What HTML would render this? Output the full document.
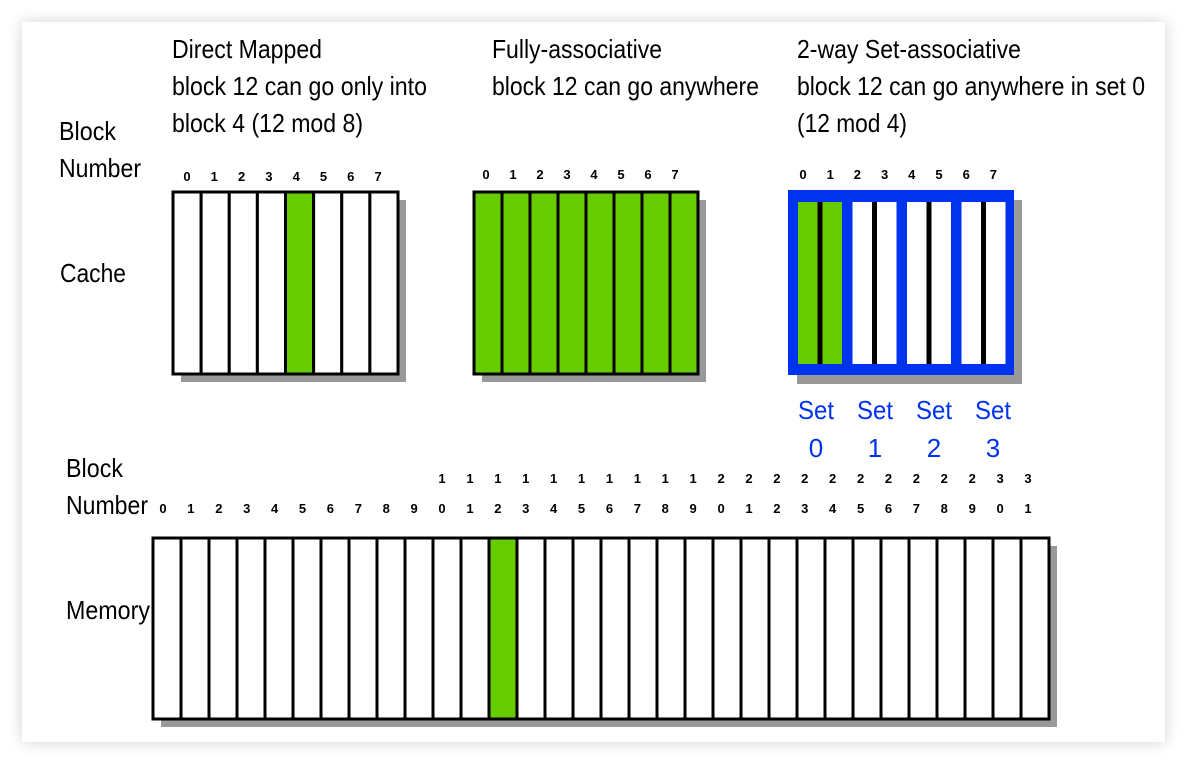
<!DOCTYPE html>
<html><head><meta charset="utf-8"><style>
html,body{margin:0;padding:0;background:#fff;width:1187px;height:765px;overflow:hidden}
#panel{position:absolute;left:22px;top:22px;width:1143px;height:720px;background:#fff;box-shadow:0 0 14px rgba(0,0,0,0.18)}
svg{position:absolute;left:0;top:0}
text{font-family:"Liberation Sans",sans-serif}
.t{font-size:26px;fill:#000}
.n{font-size:13px;font-weight:bold;fill:#000}
.b{font-size:26px;fill:#0033ee}
</style></head><body>
<div id="panel"></div>
<svg id="s" width="1187" height="765">
<g>
<text class="t" x="172" y="58" textLength="150" lengthAdjust="spacingAndGlyphs">Direct Mapped</text>
<text class="t" x="172" y="95" textLength="255" lengthAdjust="spacingAndGlyphs">block 12 can go only into</text>
<text class="t" x="172" y="132" textLength="191" lengthAdjust="spacingAndGlyphs">block 4 (12 mod 8)</text>
<text class="t" x="492" y="58" textLength="170" lengthAdjust="spacingAndGlyphs">Fully-associative</text>
<text class="t" x="492" y="95" textLength="267" lengthAdjust="spacingAndGlyphs">block 12 can go anywhere</text>
<text class="t" x="797" y="58" textLength="224" lengthAdjust="spacingAndGlyphs">2-way Set-associative</text>
<text class="t" x="797" y="95" textLength="348" lengthAdjust="spacingAndGlyphs">block 12 can go anywhere in set 0</text>
<text class="t" x="797" y="132" textLength="110" lengthAdjust="spacingAndGlyphs">(12 mod 4)</text>
<text class="t" x="59" y="140" textLength="57" lengthAdjust="spacingAndGlyphs">Block</text>
<text class="t" x="59" y="177" textLength="82" lengthAdjust="spacingAndGlyphs">Number</text>
<text class="t" x="60" y="282" textLength="66" lengthAdjust="spacingAndGlyphs">Cache</text>
<text class="t" x="66" y="477" textLength="57" lengthAdjust="spacingAndGlyphs">Block</text>
<text class="t" x="66" y="514" textLength="82" lengthAdjust="spacingAndGlyphs">Number</text>
<text class="t" x="66" y="619" textLength="84" lengthAdjust="spacingAndGlyphs">Memory</text>
</g>
<g id="g"></g>
</svg>
<script>
const cacheBlocks=[0,1,2,3,4,5,6,7];
const directHighlight=[4];
const fullHighlight=[0,1,2,3,4,5,6,7];
const setHighlight=[0];
const setLabels=["0","1","2","3"];
const memoryBlocks=Array.from({length:32},(_,i)=>i);
const memoryHighlight=[12];
const NS="http://www.w3.org/2000/svg";
const g=document.getElementById('g');
function el(tag,a,txt){const e=document.createElementNS(NS,tag);for(const k in a)e.setAttribute(k,a[k]);if(txt!==undefined)e.textContent=txt;g.appendChild(e);return e;}
const GREEN="#66cc00";
function blockRow(x0,x1,y0,y1,n,hl,name){
  const sh=el('rect',{x:x0+8,y:y0+8,width:x1-x0,height:y1-y0,fill:"#999"});
  
  
  const w=(x1-x0)/n;
  for(let i=0;i<n;i++){
    const r=el('rect',{x:x0+i*w,y:y0,width:w,height:y1-y0,fill:hl.includes(i)?GREEN:"#fff",stroke:"#000","stroke-width":3});
    
    
  }
}
blockRow(173,398,192,374,cacheBlocks.length,directHighlight,'direct-cache');
cacheBlocks.forEach((b,i)=>{const t=el('text',{class:'n',x:187+i*27.3,y:181,'text-anchor':'middle'},b);
});
blockRow(474,698,192,374,cacheBlocks.length,fullHighlight,'full-cache');
cacheBlocks.forEach((b,i)=>{const t=el('text',{class:'n',x:486+i*27,y:179,'text-anchor':'middle'},b);
});
{
 const sh=el('rect',{x:797,y:200,width:225,height:184,fill:"#999"});
 
 const o=el('rect',{x:788,y:190,width:226,height:185,fill:"#0033ee"});
 
 setLabels.forEach((s,i)=>{
   const sx=798+i*54.5, w=44;
   const fill=setHighlight.includes(i)?GREEN:"#fff";
   const r=el('rect',{x:sx,y:202,width:w,height:162,fill:fill});
   
   const d=el('rect',{x:sx+w/2-2.5,y:202,width:5,height:162,fill:"#000"});
   
   const cx=816+i*59;
   const t1=el('text',{class:'b',x:cx,y:419,'text-anchor':'middle',textLength:36,lengthAdjust:'spacingAndGlyphs'},'Set');
   
   const t2=el('text',{class:'b',x:cx,y:457,'text-anchor':'middle'},s);
   
 });
 cacheBlocks.forEach((b,i)=>{const t=el('text',{class:'n',x:803+i*27.2,y:179,'text-anchor':'middle'},b);
 });
}
blockRow(153,1049,538,719,memoryBlocks.length,memoryHighlight,'memory');
memoryBlocks.forEach((b,i)=>{
  const x=163+i*(1028-163)/31;
  const s=String(b);
  if(s.length>1){const t=el('text',{class:'n',x:x,y:483,'text-anchor':'middle'},s[0]);
    }
  const t=el('text',{class:'n',x:x,y:513,'text-anchor':'middle'},s[s.length-1]);
  
});
</script>
</body></html>
